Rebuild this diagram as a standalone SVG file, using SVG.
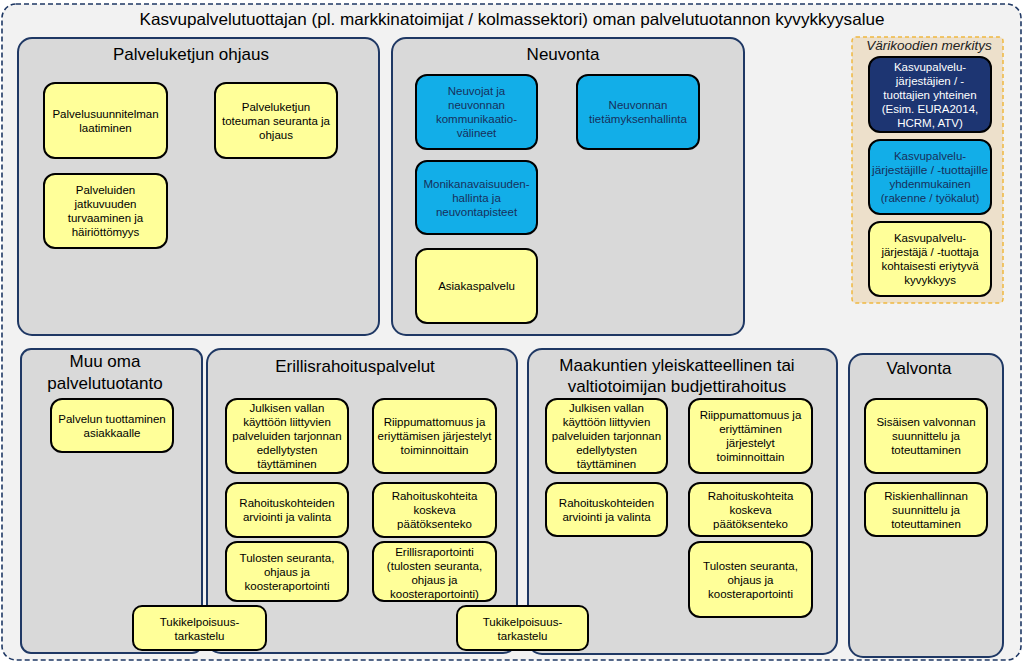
<svg xmlns="http://www.w3.org/2000/svg" width="1024" height="663" viewBox="0 0 1024 663">
<style>
text{font-family:"Liberation Sans",Arial,sans-serif;text-anchor:middle}
.outer{fill:#f2f2f2;stroke:#1f3864;stroke-width:1.6;stroke-dasharray:5 3}
.panel{fill:#d9d9d9;stroke:#1f3864;stroke-width:2}
.pt{font-size:17px;fill:#000}
.y{fill:#ffff99;stroke:#000;stroke-width:2}
.b{fill:#12aee8;stroke:#000;stroke-width:2}
.n{fill:#1d3572;stroke:#000;stroke-width:2}
.t{font-size:11.5px;fill:#000}
.tb{font-size:11.5px;fill:#17305c}
.tw{font-size:11.5px;fill:#fff}
.legend{fill:#ede0cb;stroke:#f0b840;stroke-width:1.5;stroke-dasharray:4 3}
</style>
<rect class="outer" x="2" y="4" width="1019" height="656" rx="14"/>
<text x="512" y="25" style="font-size:16.5px" textLength="745" lengthAdjust="spacingAndGlyphs">Kasvupalvelutuottajan (pl. markkinatoimijat / kolmassektori) oman palvelutuotannon kyvykkyysalue</text>

<g id="panel-palveluketjun-ohjaus">
<rect class="panel" x="18" y="38" width="361" height="297" rx="14"/>
<text class="pt" x="191" y="60">Palveluketjun ohjaus</text>
</g>
<g id="palvelusuunnitelman">
<rect class="y" x="44" y="83" width="123" height="75" rx="11"/>
<text class="t" x="105.5" y="117.5">Palvelusuunnitelman</text><text class="t" x="105.5" y="131.5">laatiminen</text>
</g>
<g id="palveluketjun-toteuma">
<rect class="y" x="215" y="83" width="122" height="75" rx="11"/>
<text class="t" x="276" y="110.5">Palveluketjun</text><text class="t" x="276" y="124.5">toteuman seuranta ja</text><text class="t" x="276" y="138.5">ohjaus</text>
</g>
<g id="palveluiden-jatkuvuus">
<rect class="y" x="44" y="174" width="123" height="74" rx="11"/>
<text class="t" x="105.5" y="194">Palveluiden</text><text class="t" x="105.5" y="208">jatkuvuuden</text><text class="t" x="105.5" y="222">turvaaminen ja</text><text class="t" x="105.5" y="236">häiriöttömyys</text>
</g>

<g id="panel-neuvonta">
<rect class="panel" x="392" y="38" width="352" height="297" rx="14"/>
<text class="pt" x="563" y="60">Neuvonta</text>
</g>
<g id="neuvojat">
<rect class="b" x="416" y="75" width="121" height="74" rx="11"/>
<text class="tb" x="476.5" y="95">Neuvojat ja</text><text class="tb" x="476.5" y="109">neuvonnan</text><text class="tb" x="476.5" y="123">kommunikaatio-</text><text class="tb" x="476.5" y="137">välineet</text>
</g>
<g id="tietamyksenhallinta">
<rect class="b" x="577" y="75" width="122" height="74" rx="11"/>
<text class="tb" x="638" y="109">Neuvonnan</text><text class="tb" x="638" y="123">tietämyksenhallinta</text>
</g>
<g id="monikanavaisuus">
<rect class="b" x="416" y="161" width="121" height="73" rx="11"/>
<text class="tb" x="476.5" y="187.5">Monikanavaisuuden-</text><text class="tb" x="476.5" y="201.5">hallinta ja</text><text class="tb" x="476.5" y="215.5">neuvontapisteet</text>
</g>
<g id="asiakaspalvelu">
<rect class="y" x="416" y="249" width="121" height="74" rx="11"/>
<text class="t" x="476.5" y="290">Asiakaspalvelu</text>
</g>

<g id="legend">
<rect class="legend" x="852" y="37" width="151" height="266" rx="4"/>
<text x="929" y="50" style="font-size:13.5px;font-style:italic;fill:#222">Värikoodien merkitys</text>
</g>
<g id="legend-yhteinen">
<rect class="n" x="869" y="57" width="122" height="75" rx="11"/>
<text class="tw" x="930" y="71">Kasvupalvelu-</text><text class="tw" x="930" y="85">järjestäjien / -</text><text class="tw" x="930" y="99">tuottajien yhteinen</text><text class="tw" x="930" y="113">(Esim. EURA2014,</text><text class="tw" x="930" y="127">HCRM, ATV)</text>
</g>
<g id="legend-yhdenmukainen">
<rect class="b" x="869" y="140" width="122" height="74" rx="11"/>
<text class="tb" x="930" y="160">Kasvupalvelu-</text><text class="tb" x="930" y="174" textLength="116" lengthAdjust="spacingAndGlyphs">järjestäjille / -tuottajille</text><text class="tb" x="930" y="188">yhdenmukainen</text><text class="tb" x="930" y="202">(rakenne / työkalut)</text>
</g>
<g id="legend-eriytyva">
<rect class="y" x="869" y="222" width="122" height="74" rx="11"/>
<text class="t" x="930" y="242">Kasvupalvelu-</text><text class="t" x="930" y="256">järjestäjä / -tuottaja</text><text class="t" x="930" y="270">kohtaisesti eriytyvä</text><text class="t" x="930" y="284">kyvykkyys</text>
</g>

<g id="panel-muu-oma">
<rect class="panel" x="21" y="349" width="181" height="304" rx="10"/>
<text class="pt" x="105" y="367">Muu  oma</text><text class="pt" x="105" y="389">palvelutuotanto</text>
</g>
<g id="palvelun-tuottaminen">
<rect class="y" x="51" y="399" width="122" height="53" rx="11"/>
<text class="t" x="112" y="422.5">Palvelun tuottaminen</text><text class="t" x="112" y="436.5">asiakkaalle</text>
</g>

<g id="panel-erillisrahoitus">
<rect class="panel" x="207" y="349" width="310" height="304" rx="14"/>
<text class="pt" x="355" y="372">Erillisrahoituspalvelut</text>
</g>
<g id="er-julkisen">
<rect class="y" x="226" y="399" width="122" height="74" rx="11"/>
<text class="t" x="287" y="412">Julkisen vallan</text><text class="t" x="287" y="426">käyttöön liittyvien</text><text class="t" x="287" y="440">palveluiden tarjonnan</text><text class="t" x="287" y="454">edellytysten</text><text class="t" x="287" y="468">täyttäminen</text>
</g>
<g id="er-riippumattomuus">
<rect class="y" x="373" y="399" width="123" height="74" rx="11"/>
<text class="t" x="434.5" y="426">Riippumattomuus ja</text><text class="t" x="434.5" y="440">eriyttämisen järjestelyt</text><text class="t" x="434.5" y="454">toiminnoittain</text>
</g>
<g id="er-arviointi">
<rect class="y" x="226" y="483" width="122" height="54" rx="11"/>
<text class="t" x="287" y="507">Rahoituskohteiden</text><text class="t" x="287" y="521">arviointi ja valinta</text>
</g>
<g id="er-paatoksenteko">
<rect class="y" x="373" y="483" width="123" height="54" rx="11"/>
<text class="t" x="434.5" y="500">Rahoituskohteita</text><text class="t" x="434.5" y="514">koskeva</text><text class="t" x="434.5" y="528">päätöksenteko</text>
</g>
<g id="er-tulosten">
<rect class="y" x="226" y="542" width="122" height="59" rx="11"/>
<text class="t" x="287" y="561.5">Tulosten seuranta,</text><text class="t" x="287" y="575.5">ohjaus ja</text><text class="t" x="287" y="589.5">koosteraportointi</text>
</g>
<g id="er-erillisraportointi">
<rect class="y" x="373" y="542" width="123" height="59" rx="11"/>
<text class="t" x="434.5" y="555.5">Erillisraportointi</text><text class="t" x="434.5" y="569.5">(tulosten seuranta,</text><text class="t" x="434.5" y="583.5">ohjaus ja</text><text class="t" x="434.5" y="597.5">koosteraportointi)</text>
</g>

<g id="panel-maakuntien">
<rect class="panel" x="528" y="349" width="309" height="305" rx="14"/>
<text class="pt" x="677" y="371">Maakuntien  yleiskatteellinen tai</text><text class="pt" x="677" y="392">valtiotoimijan  budjettirahoitus</text>
</g>
<g id="mk-julkisen">
<rect class="y" x="546" y="399" width="121" height="74" rx="11"/>
<text class="t" x="606.5" y="412">Julkisen vallan</text><text class="t" x="606.5" y="426">käyttöön liittyvien</text><text class="t" x="606.5" y="440">palveluiden tarjonnan</text><text class="t" x="606.5" y="454">edellytysten</text><text class="t" x="606.5" y="468">täyttäminen</text>
</g>
<g id="mk-riippumattomuus">
<rect class="y" x="689" y="399" width="123" height="74" rx="11"/>
<text class="t" x="750.5" y="419">Riippumattomuus ja</text><text class="t" x="750.5" y="433">eriyttäminen</text><text class="t" x="750.5" y="447">järjestelyt</text><text class="t" x="750.5" y="461">toiminnoittain</text>
</g>
<g id="mk-arviointi">
<rect class="y" x="546" y="483" width="121" height="53" rx="11"/>
<text class="t" x="606.5" y="506.5">Rahoituskohteiden</text><text class="t" x="606.5" y="520.5">arviointi ja valinta</text>
</g>
<g id="mk-paatoksenteko">
<rect class="y" x="689" y="483" width="123" height="53" rx="11"/>
<text class="t" x="750.5" y="499.5">Rahoituskohteita</text><text class="t" x="750.5" y="513.5">koskeva</text><text class="t" x="750.5" y="527.5">päätöksenteko</text>
</g>
<g id="mk-tulosten">
<rect class="y" x="689" y="542" width="123" height="75" rx="11"/>
<text class="t" x="750.5" y="569.5">Tulosten seuranta,</text><text class="t" x="750.5" y="583.5">ohjaus ja</text><text class="t" x="750.5" y="597.5">koosteraportointi</text>
</g>

<g id="panel-valvonta">
<rect class="panel" x="849" y="354" width="154" height="303" rx="14"/>
<text class="pt" x="919" y="374">Valvonta</text>
</g>
<g id="sisainen-valvonta">
<rect class="y" x="865" y="399" width="122" height="74" rx="11"/>
<text class="t" x="926" y="426">Sisäisen valvonnan</text><text class="t" x="926" y="440">suunnittelu ja</text><text class="t" x="926" y="454">toteuttaminen</text>
</g>
<g id="riskienhallinta">
<rect class="y" x="865" y="483" width="122" height="53" rx="11"/>
<text class="t" x="926" y="499.5">Riskienhallinnan</text><text class="t" x="926" y="513.5">suunnittelu ja</text><text class="t" x="926" y="527.5">toteuttaminen</text>
</g>

<g id="tukikelpoisuus-1">
<rect class="y" x="133" y="606" width="133" height="44" rx="9"/>
<text class="t" x="199.5" y="626">Tukikelpoisuus-</text><text class="t" x="199.5" y="640">tarkastelu</text>
</g>
<g id="tukikelpoisuus-2">
<rect class="y" x="457" y="606" width="131" height="44" rx="9"/>
<text class="t" x="522.5" y="626">Tukikelpoisuus-</text><text class="t" x="522.5" y="640">tarkastelu</text>
</g>
</svg>
